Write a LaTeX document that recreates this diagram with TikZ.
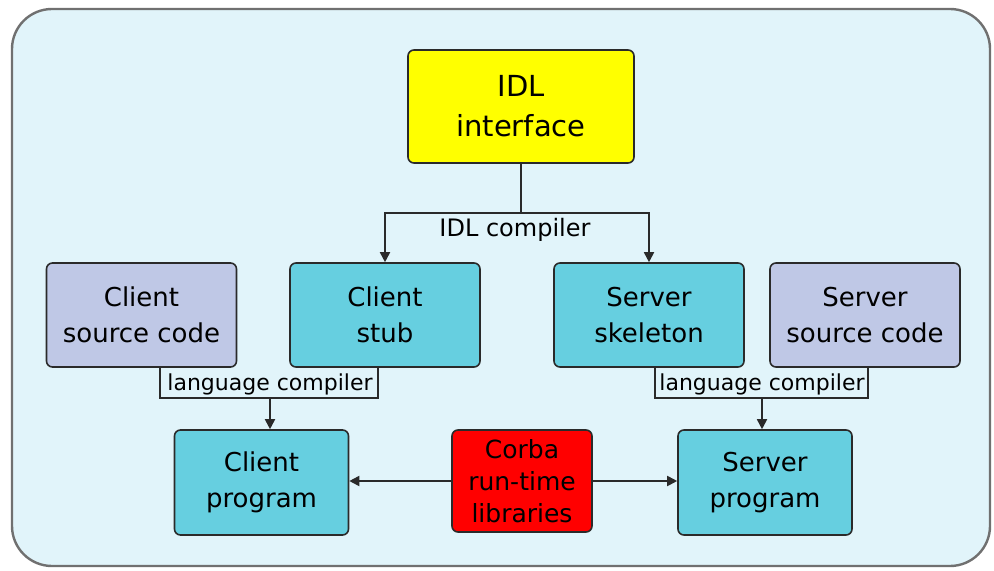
\documentclass[tikz,border=0pt]{standalone}
\usepackage{fontspec}
\setmainfont{DejaVu Sans}
\usepackage{tikz}
\usetikzlibrary{arrows.meta}

\definecolor{panelbg}{HTML}{E1F4FA}
\definecolor{panelline}{HTML}{707070}
\definecolor{stubcol}{HTML}{66CFE0}
\definecolor{srccol}{HTML}{BFC8E6}
\definecolor{idlcol}{HTML}{FFFF00}
\definecolor{corbacol}{HTML}{FF0000}
\definecolor{boxline}{HTML}{2A2A2A}

\tikzset{
  box/.style={draw=boxline, line width=0.8pt, rounded corners=3pt, align=center,
    inner sep=0pt, font=\fontsize{13}{18}\selectfont},
  wide/.style={minimum width=95pt, minimum height=52pt},
  prog/.style={minimum width=87pt, minimum height=52.5pt},
  conn/.style={draw=boxline, line width=0.9pt},
  arr/.style={conn, -{Triangle[length=5pt,width=5pt]}},
  lbl/.style={inner sep=0pt, font=\fontsize{11}{13}\selectfont}
}

\begin{document}
\begin{tikzpicture}[x=0.5pt,y=-0.5pt]
 \useasboundingbox (0,0) rectangle (994,571);
 \draw[fill=panelbg, draw=panelline, line width=1.2pt, rounded corners=20pt] (12,9) rectangle (990,566);

  \draw (521,106.5) node[box, fill=idlcol, minimum width=113pt, minimum height=56.5pt,
        font=\fontsize{14.5}{20}\selectfont] (idl) {IDL\\interface};
    \draw (141.5,315) node[box, wide, fill=srccol] (csrc) {Client\\source code};
    \draw (385,315) node[box, wide, fill=stubcol] (stub) {Client\\stub};
    \draw (649,315) node[box, wide, fill=stubcol] (skel) {Server\\skeleton};
    \draw (865,315) node[box, wide, fill=srccol] (ssrc) {Server\\source code};
	  \draw (261.5,482.5) node[box, prog, fill=stubcol] (cprog) {Client\\program};
	  \draw (522,481) node[box, fill=corbacol, minimum width=70pt, minimum height=51pt,
        font=\fontsize{12.5}{16}\selectfont] (corba) {Corba\\run-time\\libraries};
	  \draw (765,482.5) node[box, prog, fill=stubcol] (sprog) {Server\\program};

  \coordinate (idlj) at (idl.south |- 0,213);
  \coordinate (lcl) at (270,398);
  \coordinate (lcr) at (762,398);

     \draw[conn] (idl.south) -- (idlj);
     \draw[arr] (idlj) -| (stub.north);
     \draw[arr] (idlj) -| (skel.north);
     \draw (515,230) node[lbl, font=\fontsize{12}{14}\selectfont] (idlc) {IDL compiler};

     \draw[conn] (csrc.south -| 160,0) |- (lcl) -| (stub.south -| 378,0);
     \draw[arr] (lcl) -- (cprog.north -| lcl);
     \draw (270,384) node[lbl] (lcompl) {language compiler};

     \draw[conn] (skel.south -| 655,0) |- (lcr) -| (ssrc.south -| 868,0);
     \draw[arr] (lcr) -- (sprog.north -| lcr);
     \draw (762,384) node[lbl] (lcompr) {language compiler};

     \draw[arr] (corba.west) -- (cprog.east |- corba.west);
     \draw[arr] (corba.east) -- (sprog.west |- corba.east);
\end{tikzpicture}
\end{document}
